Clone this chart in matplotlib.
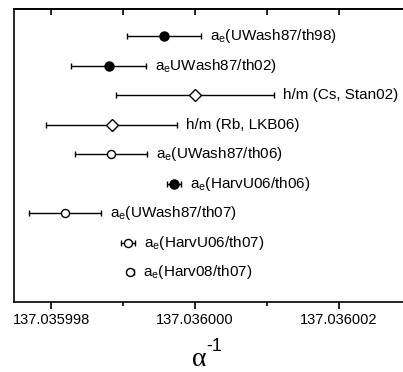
import matplotlib
matplotlib.use('Agg')
from matplotlib import pyplot as plt
from matplotlib.ticker import FixedLocator
import numpy as np

plt.rcParams['font.family'] = ['Liberation Sans', 'DejaVu Sans']
plt.rcParams['mathtext.fontset'] = 'custom'
plt.rcParams['mathtext.rm'] = 'Liberation Sans'
plt.rcParams['mathtext.it'] = 'Liberation Sans'

# data: inverse fine-structure constant determinations
names = ['a$_\\mathregular{e}$(UWash87/th98)',
         'a$_\\mathregular{e}$UWash87/th02)',
         'h/m (Cs, Stan02)',
         'h/m (Rb, LKB06)',
         'a$_\\mathregular{e}$(UWash87/th06)',
         'a$_\\mathregular{e}$(HarvU06/th06)',
         'a$_\\mathregular{e}$(UWash87/th07)',
         'a$_\\mathregular{e}$(HarvU06/th07)',
         'a$_\\mathregular{e}$(Harv08/th07)']
alphaInv = [137.03599957, 137.03599880, 137.03600000, 137.03599884, 137.03599883,
            137.03599971, 137.03599819, 137.03599907, 137.03599910]
alphaErr = [0.00000051, 0.00000052, 0.00000110, 0.00000091, 0.00000050,
            0.000000096, 0.00000050, 0.000000096, 0.000000051]
markers = ['o', 'o', 'D', 'D', 'o', 'o', 'o', 'o', 'o']
filled = [True, True, False, False, False, True, False, False, False]

majorTicks = [137.035998, 137.036000, 137.036002]
minorTicks = [137.035999, 137.036001]

fig = plt.figure(figsize=(4.03, 3.72), dpi=100)
ax = fig.add_axes([14 / 403, 70 / 372, 397 / 403, 293 / 372])

n = len(names)
for i in range(n):
    y = n - i
    ms = 6.5 if filled[i] else 5.8
    if markers[i] == 'D':
        ms = 6.5
    ax.errorbar(alphaInv[i], y, xerr=alphaErr[i], fmt=markers[i], color='black',
                mfc='black' if filled[i] else 'white', mec='black', mew=1.0,
                ms=ms, elinewidth=1.0, capsize=2.5, capthick=1.0, zorder=3)
    ax.annotate(names[i], xy=(alphaInv[i] + alphaErr[i], y), xytext=(6.5, 0),
                textcoords='offset points', va='center', ha='left', fontsize=11)

ax.set_ylim(0, n + 0.92)
ax.set_xlim(137.035997485, 137.036003)
ax.set_yticks([])

ax.xaxis.set_major_locator(FixedLocator(majorTicks))
ax.xaxis.set_minor_locator(FixedLocator(minorTicks))
ax.set_xticklabels(['%.6f' % t for t in majorTicks], fontsize=10.5)
ax.tick_params(axis='x', which='major', direction='out', length=5, width=1.2, pad=3)
ax.tick_params(axis='x', which='minor', direction='out', length=3, width=1.2)

top = ax.secondary_xaxis('top')
top.xaxis.set_major_locator(FixedLocator(majorTicks + minorTicks))
top.tick_params(axis='x', direction='in', length=4, width=1.2, labeltop=False)
top.spines['top'].set_linewidth(1.2)

for s in ['left', 'bottom', 'top']:
    ax.spines[s].set_linewidth(1.2)
ax.spines['right'].set_visible(False)

# axis title: alpha^-1
fig.text(199.5 / 403, 6 / 372, 'α', family='Liberation Serif', fontsize=20,
         ha='center', va='baseline')
fig.text(206 / 403, 21 / 372, '-1', fontsize=13, ha='left', va='baseline')

plt.savefig('out.png', dpi=100)
